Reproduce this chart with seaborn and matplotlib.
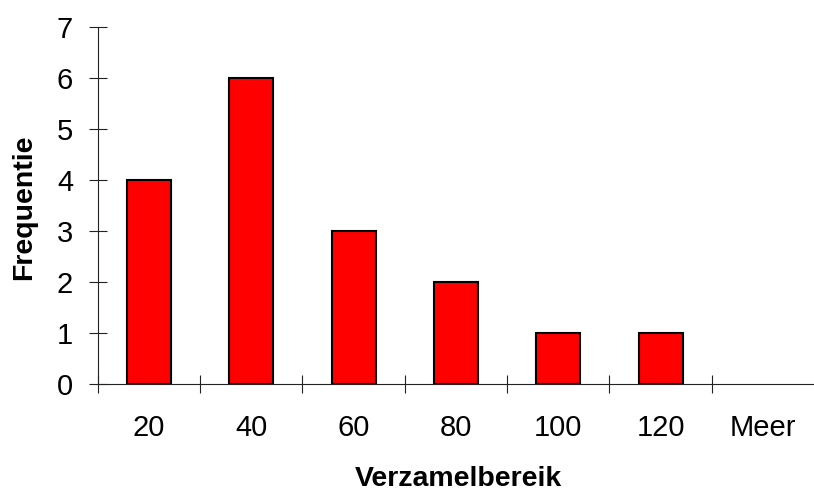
import numpy as np
import pandas as pd
import matplotlib
matplotlib.use("Agg")
import matplotlib.pyplot as plt
import seaborn as sns
from matplotlib.ticker import FixedLocator, NullFormatter

sns.set_theme(style="white")
plt.rcParams['font.family'] = ['Liberation Sans', 'DejaVu Sans']
plt.rcParams['text.color'] = 'black'
plt.rcParams['axes.labelcolor'] = 'black'
plt.rcParams['xtick.color'] = 'black'
plt.rcParams['ytick.color'] = 'black'

bins = ['20', '40', '60', '80', '100', '120', 'Meer']
freq = [4, 6, 3, 2, 1, 1, 0]

df = pd.DataFrame({'Verzamelbereik': bins, 'Frequentie': freq})

fig = plt.figure(figsize=(8.14, 4.91), dpi=100)
ax = fig.add_axes([0.12, 0.217, 0.88, 0.7287])

sns.barplot(data=df, x='Verzamelbereik', y='Frequentie', order=bins,
            color='#ff0000', saturation=1, width=0.43,
            edgecolor='black', linewidth=1.5, ax=ax)

# an empty bin shows no outline in the original
for p in ax.patches:
    if p.get_height() == 0:
        p.set_linewidth(0)

ax.set_xlim(-0.5, len(bins) - 0.5)
ax.set_ylim(0, 7)
ax.set_yticks(range(0, 8))

# tick marks sit between the categories, labels sit under the bars
ax.xaxis.set_major_locator(FixedLocator(np.arange(-0.5, len(bins) - 1, 1.0)))
ax.xaxis.set_major_formatter(NullFormatter())
ax.xaxis.set_minor_locator(FixedLocator(np.arange(len(bins))))
ax.set_xticklabels(bins, minor=True)

ax.tick_params(axis='y', which='major', direction='inout', length=13.5, width=0.8,
               color='#222222', labelsize=21, pad=11, left=True)
ax.tick_params(axis='x', which='major', direction='inout', length=13, width=0.8,
               color='#222222', bottom=True)
ax.tick_params(axis='x', which='minor', length=0, labelsize=21, pad=21, bottom=True)

for side in ['top', 'right']:
    ax.spines[side].set_visible(False)
for side in ['left', 'bottom']:
    ax.spines[side].set_linewidth(0.8)
    ax.spines[side].set_color('#222222')

ax.set_xlabel('Verzamelbereik', fontsize=20.5, fontweight='bold')
ax.set_ylabel('Frequentie', fontsize=20.5, fontweight='bold')
ax.xaxis.set_label_coords(0.504, -0.228)
ax.yaxis.set_label_coords(-0.085, 0.495)

fig.savefig('out.png', dpi=100)
